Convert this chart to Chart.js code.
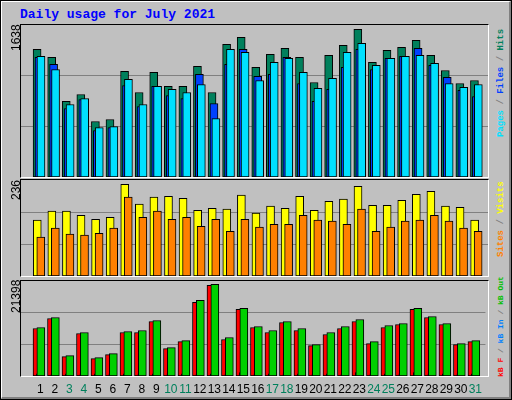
<!DOCTYPE html>
<html><head><meta charset="utf-8">
<script src="https://cdn.jsdelivr.net/npm/chart.js@4"></script>
<style>
html,body{margin:0;padding:0;}
body{width:512px;height:400px;position:relative;background:#c0c0c0;overflow:hidden;font-family:"Liberation Sans",sans-serif;}
#frame{position:absolute;left:0;top:0;width:510px;height:398px;border:1px solid #000;}
#frame2{position:absolute;left:1px;top:1px;width:507px;height:395px;border-left:1px solid #fff;border-top:1px solid #fff;border-right:2px solid #808080;border-bottom:2px solid #808080;}
.panel{position:absolute;left:20px;width:467px;border-top:1px solid #000;border-left:1px solid #000;border-right:1px solid #fff;border-bottom:1px solid #fff;}
canvas{position:absolute;left:0;top:0;}
.title{position:absolute;left:20px;top:7px;font:bold 13px "Liberation Mono",monospace;color:#0000ff;}
.rot{position:absolute;transform-origin:0 0;transform:rotate(-90deg);white-space:nowrap;line-height:11px;}
.lv{font-size:12px;color:#000;line-height:13px;}
.rl{font:bold 9px "Liberation Mono",monospace;color:#808080;}
</style></head><body>
<div id="frame"></div><div id="frame2"></div>
<div class="title">Daily usage for July 2021</div>
<div class="panel" style="top:24px;height:152px;"><canvas id="c1" width="467" height="152"></canvas></div>
<div class="panel" style="top:179px;height:96px;"><canvas id="c2" width="467" height="96"></canvas></div>
<div class="panel" style="top:280px;height:95px;"><canvas id="c3" width="467" height="118"></canvas></div>
<div class="rot lv" style="left:10px;top:51px;">1638</div>
<div class="rot lv" style="left:10px;top:200px;">236</div>
<div class="rot lv" style="left:10px;top:313px;">21398</div>
<div class="rot rl" style="left:496px;top:137px;"><span style="color:#00e0ff">Pages</span> / <span style="color:#0040ff">Files</span> / <span style="color:#00805c">Hits</span></div>
<div class="rot rl" style="left:496px;top:257px;"><span style="color:#ff8000">Sites</span> / <span style="color:#ffff00">Visits</span></div>
<div class="rot rl" style="left:496px;top:377px;font-size:8px;"><span style="color:#ff0000">kB F</span> / <span style="color:#0080ff">kB In</span> / <span style="color:#00c000">kB Out</span></div>
<script>
const days=Array.from({length:31},(_,i)=>i+1);
const weekendDays=[3,4,10,11,17,18,24,25,31];
const hits=[1412,1324,836,913,614,636,1168,935,1157,1002,1002,1224,935,1468,1545,1213,1357,1423,1324,1046,1346,1457,1634,1268,1401,1434,1512,1346,1179,1035,1068];
const files=[1324,1246,758,858,514,547,1013,780,1002,902,869,1135,813,1246,1412,1113,1135,1324,1035,836,969,1213,1412,1190,1312,1335,1423,1235,1102,958,891];
const pages=[1335,1190,802,869,547,558,1080,802,1002,969,935,1024,647,1412,1379,1068,1268,1312,1157,980,1091,1379,1479,1235,1312,1335,1346,1257,1035,991,1024];
const visits=[144,167,167,156,146,151,236,185,203,205,200,169,174,172,208,162,180,174,205,169,192,198,231,182,182,195,210,218,180,177,144];
const sites=[100,123,108,105,110,123,203,151,167,146,151,128,146,115,146,126,133,133,156,144,141,133,172,115,126,141,144,156,141,123,115];
const kbF=[11048,13382,4512,9881,4046,4979,10114,10114,12681,6380,8013,17116,21084,8480,15482,11281,10114,12448,10581,7080,9647,11048,12681,7547,11281,11981,15482,13615,11981,7313,8013];
const kbIn=[500,500,500,500,500,500,500,500,500,500,500,500,500,500,800,500,500,500,500,500,500,500,800,500,500,500,800,500,500,500,500];
const kbOut=[11281,13615,4746,10114,4279,5213,10347,10581,12915,6613,8247,17583,21317,8947,15716,11514,10581,12681,11048,7313,10114,11514,13148,8013,11748,12215,15716,13848,12215,7547,8247];

function pts(arr,off){return arr.map((v,i)=>({x:days[i]+off,y:v}));}
function ds(arr,off,color,order,w){return {data:pts(arr,off),backgroundColor:color,borderColor:'#000',borderWidth:1,barThickness:w||8,order:order,grouped:false,borderSkipped:false};}
function mk(id,datasets,M,showX){
  new Chart(document.getElementById(id),{type:'bar',data:{datasets},
   options:{responsive:false,animation:false,devicePixelRatio:1,layout:{padding:0},
    plugins:{legend:{display:false},tooltip:{enabled:false}},
    scales:{
     x:{type:'linear',min:0.28,max:31.28,display:!!showX,border:{display:false},grid:{display:false,drawTicks:false},
        afterBuildTicks:s=>{s.ticks=days.map(d=>({value:d+0.1}));},
        afterFit:s=>{s.height=showX?23:0;},
        ticks:{padding:6,autoSkip:false,maxRotation:0,font:{family:'Liberation Sans',size:12},
          color:c=>weekendDays.includes(Math.round(c.tick.value))?'#00805c':'#000',
          callback:v=>String(Math.round(v))}},
     y:{min:0,max:M,border:{display:false},grid:{color:'#808080',lineWidth:1,drawTicks:false},
        afterBuildTicks:s=>{s.ticks=[{value:M/3},{value:2*M/3}];},
        afterFit:s=>{s.width=0;},
        ticks:{display:false}}
    }}});
}
mk('c1',[ds(pages,0.133,'#00e0ff',1),ds(files,0,'#0040ff',2),ds(hits,-0.133,'#00805c',3)],1682,false);
mk('c2',[ds(sites,0.12,'#ff8000',1),ds(visits,-0.12,'#ffff00',2)],247,false);
mk('c3',[ds(kbOut,0.133,'#00d000',1),ds(kbIn,-0.07,'#0080ff',2,3),ds(kbF,-0.133,'#ff0000',3)],22098,true);
</script></body></html>
